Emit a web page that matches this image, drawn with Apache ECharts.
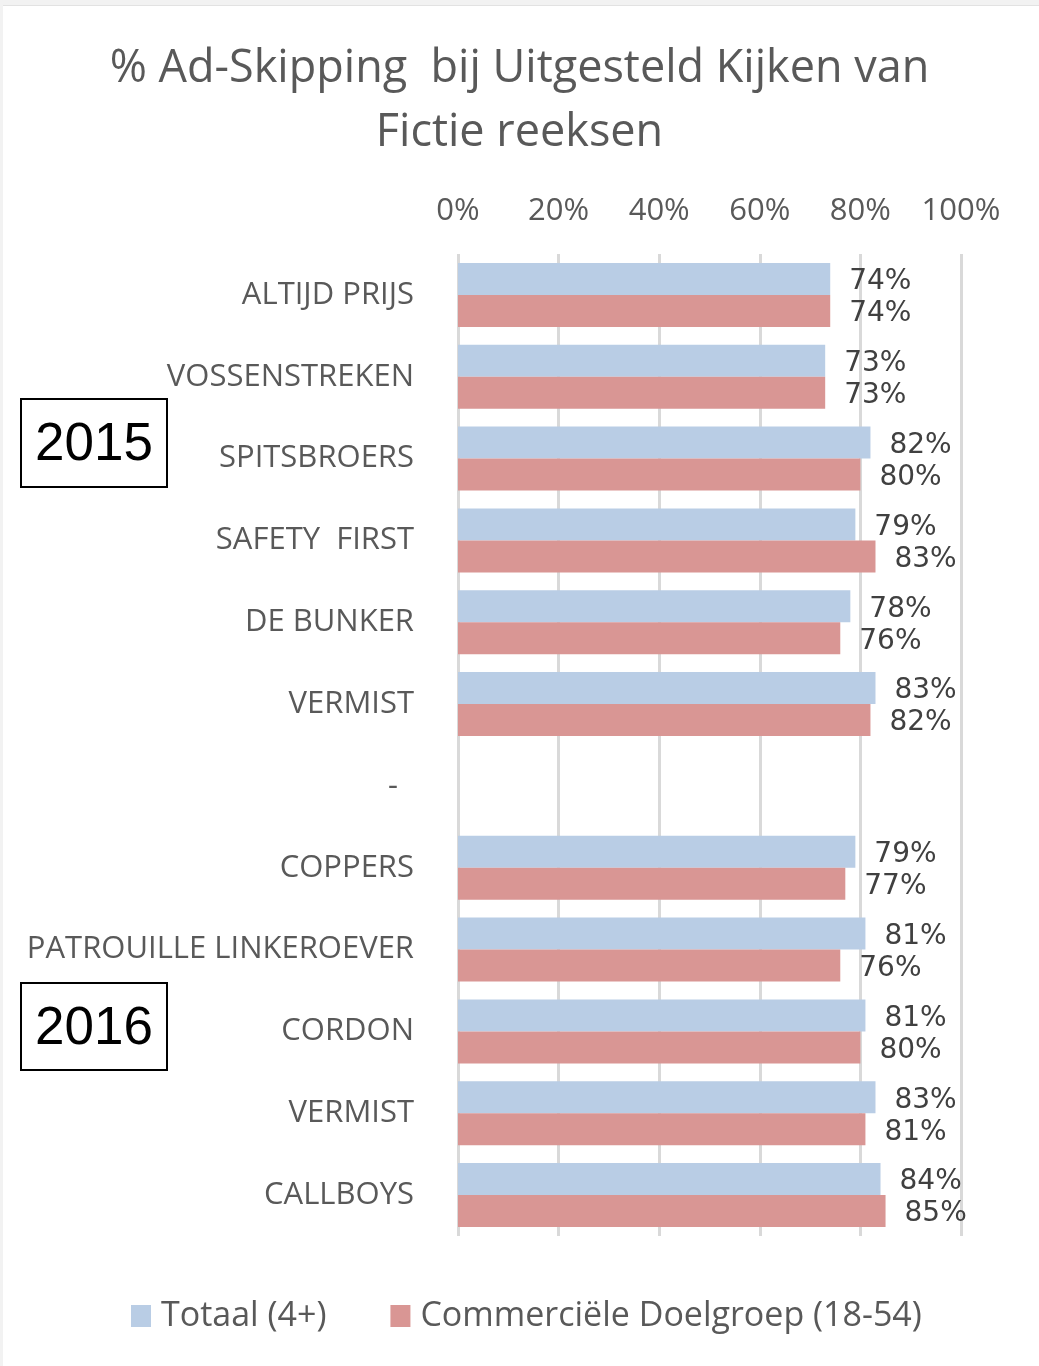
<!DOCTYPE html>
<html>
<head>
<meta charset="utf-8">
<script src="https://cdn.jsdelivr.net/npm/echarts@6/dist/echarts.min.js"></script>
<style>
html,body{margin:0;padding:0;background:#fff;}
#chart{width:1039px;height:1366px;}
</style>
</head>
<body>
<div id="chart"></div>
<script>
const categories = ['ALTIJD PRIJS','VOSSENSTREKEN','SPITSBROERS','SAFETY  FIRST','DE BUNKER','VERMIST','-  ','COPPERS','PATROUILLE LINKEROEVER','CORDON','VERMIST\u200B','CALLBOYS'];
const totaal = [74,73,82,79,78,83,null,79,81,81,83,84];
const commercieel = [74,73,80,83,76,82,null,77,76,80,81,85];
const xTicks = [0,20,40,60,80,100];
const seriesNames = ['Totaal (4+)','Commerciële Doelgroep (18-54)'];
const yearLabels = ['2015','2016'];

const chart = echarts.init(document.getElementById('chart'), null, {renderer:'canvas'});
const labelStyle = {
  show:true, position:'right', distance:19, offset:[0,3],
  fontFamily:'DejaVu Sans', fontSize:28, color:'#404040',
  formatter: p => p.value == null ? '' : p.value + '%'
};
chart.setOption({
  backgroundColor:'#ffffff',
  animation:false,
  title:{
    text:'% Ad-Skipping  bij Uitgesteld Kijken van\nFictie reeksen',
    left:'center', top:32,
    textStyle:{fontFamily:'Open Sans', fontSize:45, fontWeight:'normal', color:'#595959', lineHeight:64}
  },
  legend:{
    data:seriesNames,
    left:131, top:1299, padding:0,
    itemWidth:20, itemHeight:22, itemGap:64,
    icon:'rect',
    textStyle:{fontFamily:'Open Sans', fontSize:34, color:'#595959', lineHeight:34, padding:[0,0,0,5]}
  },
  grid:{left:458, right:78, top:254, bottom:130, containLabel:false},
  xAxis:{
    type:'value', position:'top', min:xTicks[0], max:xTicks[xTicks.length-1], interval:20,
    axisLine:{show:false}, axisTick:{show:false},
    splitLine:{show:true, lineStyle:{color:'#d9d9d9', width:3}},
    axisLabel:{formatter:'{value}%', fontFamily:'Open Sans', fontSize:31, color:'#595959', margin:27}
  },
  yAxis:{
    type:'category', inverse:true, data:categories,
    axisLine:{show:false}, axisTick:{show:false},
    axisLabel:{fontFamily:'Open Sans', fontSize:31, color:'#595959', margin:44}
  },
  series:[
    {name:seriesNames[0], type:'bar', data:totaal, barWidth:32, barGap:'0%',
     itemStyle:{color:'#b9cde5'}, label:labelStyle},
    {name:seriesNames[1], type:'bar', data:commercieel, barWidth:32, barGap:'0%',
     itemStyle:{color:'#d99694'}, label:labelStyle}
  ],
  graphic:[
    {type:'rect', shape:{x:0,y:0,width:1039,height:5}, style:{fill:'#f2f2f2'}, silent:true},
    {type:'rect', shape:{x:0,y:0,width:3,height:1366}, style:{fill:'#f2f2f2'}, silent:true},
    {type:'line', shape:{x1:3,y1:5.5,x2:1039,y2:5.5}, style:{stroke:'#e2e2e2', lineWidth:1}, silent:true},
    {type:'rect', shape:{x:21,y:399,width:146,height:88}, style:{fill:'#fff', stroke:'#000', lineWidth:2}},
    {type:'text', x:94, y:445, style:{text:yearLabels[0], fontFamily:'Liberation Sans', fontSize:53, fill:'#000', align:'center', verticalAlign:'middle'}},
    {type:'rect', shape:{x:21,y:983,width:146,height:87}, style:{fill:'#fff', stroke:'#000', lineWidth:2}},
    {type:'text', x:94, y:1029, style:{text:yearLabels[1], fontFamily:'Liberation Sans', fontSize:53, fill:'#000', align:'center', verticalAlign:'middle'}}
  ]
});
</script>
</body>
</html>
